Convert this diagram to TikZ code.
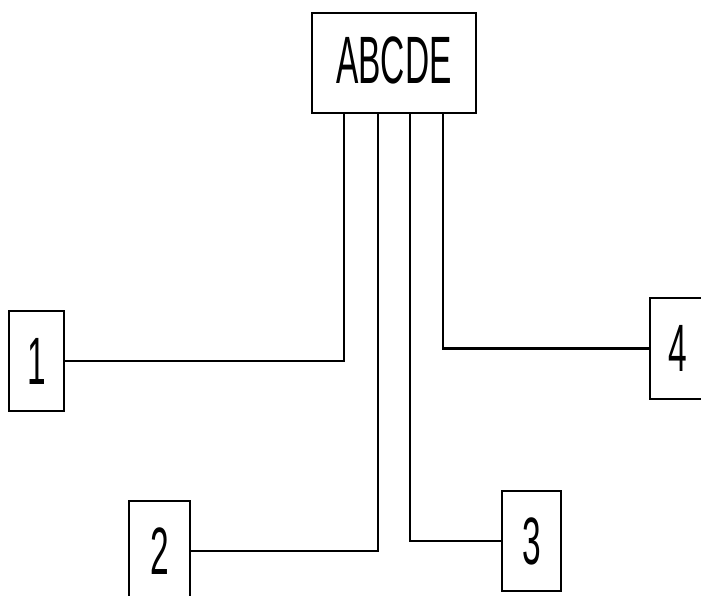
\documentclass[tikz,border=0pt]{standalone}
\usepackage{fontspec}
\usepackage{graphicx}
\setmainfont{Liberation Sans}
\newcommand{\cadtext}[1]{\scalebox{0.5}[1]{\fontsize{67}{67}\selectfont #1}}
\begin{document}
\begin{tikzpicture}[x=1pt,y=1pt,
  box/.style={draw,line width=2.4pt,inner sep=0pt,minimum width=#1},
  wire/.style={line width=2.4pt,line join=miter}]
\useasboundingbox (0,0) rectangle (701,596);
\clip (0,0) rectangle (701,596);
\fill[white] (0,0) rectangle (701,596);
\node[box=164, minimum height=100] (top) at (394,533) {\raisebox{6pt}{\cadtext{ABCDE}}};
\node[box=55, minimum height=100] (b1) at (36.5,235) {\cadtext{1}};
\node[box=61, minimum height=100] (b2) at (159.5,45) {\cadtext{2}};
\node[box=59, minimum height=100] (b3) at (531.5,55) {\cadtext{3}};
\node[box=55, minimum height=101] (b4) at (677.5,247.5) {\cadtext{4}};
\coordinate (p1) at (344,483);
\coordinate (p2) at (378,483);
\coordinate (p3) at (410,483);
\coordinate (p4) at (443,483);
\draw[wire] (p1) |- (b1.east);
\draw[wire] (p2) |- (b2.east);
\draw[wire] (p3) |- (b3.west);
\draw[wire] (p4) |- (b4.west);
\end{tikzpicture}
\end{document}
